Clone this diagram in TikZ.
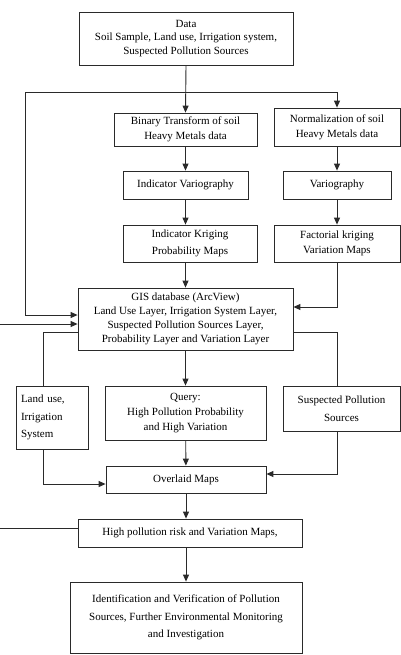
\documentclass[tikz,border=0pt]{standalone}
\usepackage{fontspec}
\setmainfont{Liberation Serif}
\usepackage{xcolor}
\definecolor{cLine}{HTML}{2A2A2A}
\usetikzlibrary{positioning,arrows.meta}
\tikzset{
  node-box/.style={draw=cLine,line width=0.8pt,align=center,inner sep=2pt,
    font=\fontsize{11}{13.8}\selectfont},
  node-wide/.style={font=\fontsize{11}{17.5}\selectfont},
  arrow/.style={-{Triangle[length=7pt,width=6pt]},line width=0.9pt,draw=cLine},
  line/.style={line width=0.8pt,draw=cLine},
}

\begin{document}
\begin{tikzpicture}[x=1pt,y=-1pt]
  \useasboundingbox (0,0) rectangle (401,655);
  % top part
  \node[node-box,minimum width=214,minimum height=53] (data) at (186,38.5)
    {Data\\Soil Sample, Land use, Irrigation system,\\Suspected Pollution Sources};
  \node[node-box,minimum width=143,minimum height=33,font=\fontsize{11}{15}\selectfont] (binary) at (185.5,129.5)
    {Binary Transform of soil\\Heavy Metals data};
  \node[node-box,minimum width=126,minimum height=38,font=\fontsize{11}{15}\selectfont] (norm) at (337,127)
    {Normalization of soil\\Heavy Metals data};
  \node[node-box,minimum width=125,minimum height=28] (indvar) at (185.5,185)
    {Indicator Variography};
  \node[node-box,minimum width=108,minimum height=28] (var) at (337,185)
    {Variography};
  \node[node-box,node-wide,minimum width=134,minimum height=37] (indkrig) at (190,243.5)
    {Indicator Kriging\\Probability Maps};
  \node[node-box,minimum width=126,minimum height=37,font=\fontsize{11}{15}\selectfont] (factkrig) at (337,243.5)
    {Factorial kriging\\Variation Maps};
  % GIS and query part
  \node[node-box,minimum width=215,minimum height=62] (gis) at (185.5,319)
    {GIS database (ArcView)\\Land Use Layer, Irrigation System Layer,\\Suspected Pollution Sources Layer,\\Probability Layer and Variation Layer};
  \node[node-box,node-wide,minimum width=72,minimum height=63,align=left,text width=62] (landuse) at (52,417.5)
    {Land use,\\Irrigation\\System};
  \node[node-box,minimum width=161,minimum height=54,font=\fontsize{11}{15}\selectfont] (query) at (185.5,413)
    {Query:\\High Pollution Probability\\and High Variation};
  \node[node-box,node-wide,minimum width=117,minimum height=45] (suspect) at (341.5,408.5)
    {Suspected Pollution\\Sources};
  \node[node-box,minimum width=160,minimum height=27] (overlaid) at (186,479.5)
    {Overlaid Maps};
  \node[node-box,minimum width=224,minimum height=28] (highrisk) at (190,533)
    {High pollution risk and Variation Maps,};
  \node[node-box,node-wide,minimum width=232,minimum height=71] (final) at (186,617.5)
    {Identification and Verification of Pollution\\Sources, Further Environmental Monitoring\\and Investigation};

  \coordinate (split) at (185.5,92);
  \coordinate (loopL) at (25,92);
  \coordinate (fbIn) at (0,324);
  \coordinate (fbOut) at (0,528);

  \draw[arrow] (data.south) -- (binary.north);
  \draw[arrow] (split) -| (norm.north);
  \draw[arrow] (split) -- (loopL) |- ([yshift=4]gis.west);
  \draw[arrow] (binary) -- (indvar);
  \draw[arrow] (indvar.south) -- (indvar.south |- indkrig.north);
  \draw[arrow] (indkrig.south -| gis.north) -- (gis.north);
  \draw[arrow] (norm) -- (var);
  \draw[arrow] (var) -- (factkrig);
  \draw[arrow] (factkrig.south) |- ([yshift=12]gis.east);
  \draw[arrow] (fbIn) -- ([yshift=-5]gis.west);
  \draw[line] ([yshift=-13]gis.west) -| ([xshift=-9]landuse.north);
  \draw[line] ([yshift=-13]gis.east) -| ([xshift=-4.5]suspect.north);
  \draw[arrow] (gis) -- (query);
  \draw[arrow] (query) -- (overlaid);
  \draw[arrow] ([xshift=-9]landuse.south) |- ([yshift=-4.5]overlaid.west);
  \draw[arrow] ([xshift=-4.5]suspect.south) |- ([yshift=5.5]overlaid.east);
  \draw[arrow] (overlaid.south) -- (overlaid.south |- highrisk.north);
  \draw[line] ([yshift=5]highrisk.west) -- (fbOut);
  \draw[arrow] (highrisk.south -| final.north) -- (final.north);
\end{tikzpicture}
\end{document}
